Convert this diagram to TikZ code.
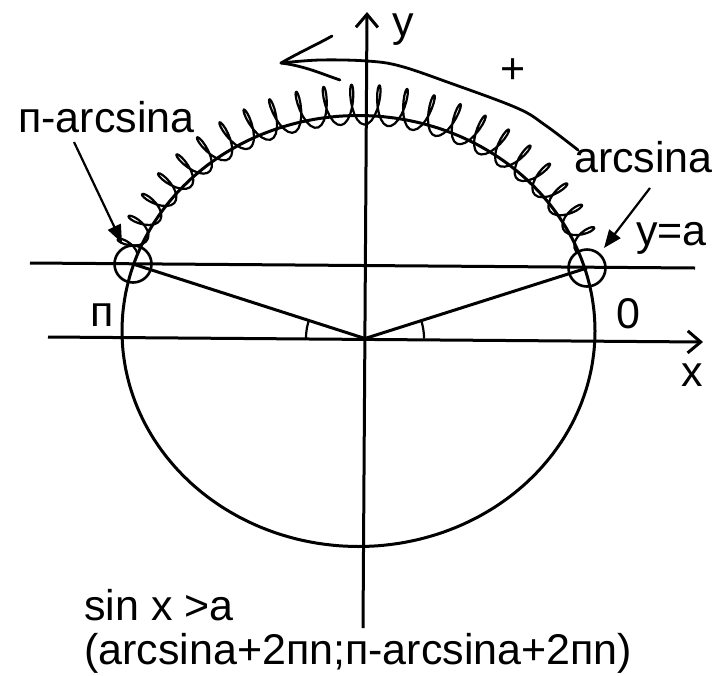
\documentclass[tikz,border=0pt]{standalone}
\usepackage{fontspec}
\setmainfont{Liberation Sans}
\usetikzlibrary{arrows.meta}
\begin{document}
\begin{tikzpicture}[x=1pt,y=-1pt,
  axis/.style={line width=3pt},
  lbl/.style={inner sep=0pt, anchor=base west, font=\fontsize{43}{50}\selectfont},
  thinln/.style={line width=2.2pt},
  ring/.style={draw, circle, inner sep=0pt, minimum size=37pt, line width=2.6pt},
  scrib/.style={line width=2.2pt, line join=round},
  barb/.style={-{Straight Barb[length=13pt,width=22pt]}},
  tri/.style={-{Triangle[length=18pt,width=14pt]}},
]
\useasboundingbox (0,0) rectangle (717,675);
% axes and line y=a
\coordinate (O) at (365,338.5);
\coordinate (xs) at (48,337); \coordinate (xe) at (703,342);
\coordinate (ys) at (363,628); \coordinate (ye) at (367,12);
\coordinate (as) at (30,263); \coordinate (ae) at (695,268);
\draw[axis,barb] (xs) -- (xe);
\draw[axis,barb] (ys) -- (ye);
\draw[axis] (as) -- (ae);
% unit circle
\draw[axis] plot[domain=0:355, samples=72, smooth cycle] ({358.5+236.5*cos(\x)},{331-215.5*sin(\x)});
% scribble (hatching of the arc), drawn as a looping curve
\draw[scrib] plot[domain=22:160, samples=420]
  ({358.5+(236.5+11)*cos(\x)+(9+11*sin(\x))*sin(60*\x)*cos(\x)-7*cos(60*\x)*sin(\x)},
   {331-(215.5+11)*sin(\x)-(9+11*sin(\x))*sin(60*\x)*sin(\x)-7*cos(60*\x)*cos(\x)});
% intersection rings
\node[ring] (pl) at (133,264) {};
\node[ring] (pr) at (587,268) {};
\draw[axis] (pl.center) -- (O);
\draw[axis] (pr.center) -- (O);
% angle marks
\draw[thinln] plot[domain=0:17, samples=10, smooth] ({365+59*cos(\x)},{338.5-59*sin(\x)});
\draw[thinln] plot[domain=163:180, samples=10, smooth] ({365+59*cos(\x)},{338.5-59*sin(\x)});
% labels
\node[lbl] (t1) at (18,132) {п-arcsina};
\node[lbl] (t2) at (574,172) {arcsina};
\node[lbl] (t3) at (636,245) {y=a};
\node[lbl] (t4) at (90,326) {п};
\node[lbl] (t5) at (616,328) {0};
\node[lbl] (t6) at (681,386) {x};
\node[lbl] (t7) at (392,36) {y};
\node[lbl] (t8) at (500,83) {+};
\node[lbl] (t9) at (84,620) {sin x >a};
\node[lbl] (t10) at (84,664) {(arcsina+2пn;п-arcsina+2пn)};
% label arrows
\coordinate (l1) at (74,142); \coordinate (l2) at (122,243);
\coordinate (r1) at (650,188); \coordinate (r2) at (604,248);
\draw[thinln,tri] (l1) -- (l2);
\draw[thinln,tri] (r1) -- (r2);
% hand-drawn direction arrow
\coordinate (htip) at (281,63);
\coordinate (hu) at (332,36);
\coordinate (hd) at (340,80);
\draw[line width=2.8pt, line cap=round] plot[smooth, tension=0.6] coordinates {(578,150) (545,125) (517,108) (450,83) (400,66) (367,61) (320,60) (281,63)};
\draw[line width=2.8pt, line cap=round] (htip) .. controls (300,52) and (318,44) .. (hu);
\draw[line width=2.8pt, line cap=round] (htip) .. controls (305,66) and (322,74) .. (hd);
\end{tikzpicture}
\end{document}
